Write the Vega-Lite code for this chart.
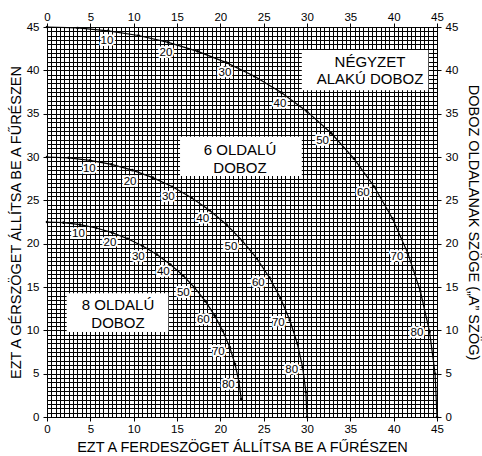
{
  "$schema": "https://vega.github.io/schema/vega-lite/v6.json",
  "width": 390,
  "height": 390,
  "autosize": "none",
  "padding": {"left": 47, "top": 27, "right": 45, "bottom": 39},
  "background": "white",
  "config": {
    "font": "Liberation Sans",
    "view": {"stroke": "black", "strokeWidth": 1},
    "axis": {
      "labelFont": "Liberation Sans",
      "titleFont": "Liberation Sans",
      "labelColor": "black",
      "titleColor": "black",
      "labelFontSize": 11.5,
      "labelFontWeight": "normal",
      "titleFontSize": 14.5,
      "titleFontWeight": "normal",
      "domainColor": "black",
      "tickColor": "black",
      "tickSize": 4,
      "labelOverlap": false,
      "labelBound": false,
      "labelFlush": false
    }
  },
  "datasets": {
    "curves": [
      {"s": "4", "a": 0, "x": 0, "y": 45},
      {"s": "4", "a": 5, "x": 3.53, "y": 44.89},
      {"s": "4", "a": 10, "x": 7.05, "y": 44.56},
      {"s": "4", "a": 15, "x": 10.55, "y": 44.02},
      {"s": "4", "a": 20, "x": 13.99, "y": 43.22},
      {"s": "4", "a": 25, "x": 17.39, "y": 42.19},
      {"s": "4", "a": 30, "x": 20.70, "y": 40.89},
      {"s": "4", "a": 35, "x": 23.93, "y": 39.32},
      {"s": "4", "a": 40, "x": 27.03, "y": 37.45},
      {"s": "4", "a": 45, "x": 30.00, "y": 35.26},
      {"s": "4", "a": 50, "x": 32.80, "y": 32.74},
      {"s": "4", "a": 55, "x": 35.40, "y": 29.84},
      {"s": "4", "a": 60, "x": 37.76, "y": 26.57},
      {"s": "4", "a": 65, "x": 39.86, "y": 22.91},
      {"s": "4", "a": 70, "x": 41.64, "y": 18.88},
      {"s": "4", "a": 75, "x": 43.08, "y": 14.51},
      {"s": "4", "a": 80, "x": 44.14, "y": 9.85},
      {"s": "4", "a": 85, "x": 44.78, "y": 4.98},
      {"s": "4", "a": 90, "x": 45, "y": 0},
      {"s": "6", "a": 0, "x": 0, "y": 30},
      {"s": "6", "a": 5, "x": 2.50, "y": 29.91},
      {"s": "6", "a": 10, "x": 4.98, "y": 29.62},
      {"s": "6", "a": 15, "x": 7.44, "y": 29.15},
      {"s": "6", "a": 20, "x": 9.85, "y": 28.48},
      {"s": "6", "a": 25, "x": 12.20, "y": 27.62},
      {"s": "6", "a": 30, "x": 14.48, "y": 26.57},
      {"s": "6", "a": 35, "x": 16.67, "y": 25.31},
      {"s": "6", "a": 40, "x": 18.75, "y": 23.86},
      {"s": "6", "a": 45, "x": 20.70, "y": 22.21},
      {"s": "6", "a": 50, "x": 22.52, "y": 20.36},
      {"s": "6", "a": 55, "x": 24.18, "y": 18.32},
      {"s": "6", "a": 60, "x": 25.66, "y": 16.10},
      {"s": "6", "a": 65, "x": 26.95, "y": 13.71},
      {"s": "6", "a": 70, "x": 28.02, "y": 11.17},
      {"s": "6", "a": 75, "x": 28.88, "y": 8.50},
      {"s": "6", "a": 80, "x": 29.50, "y": 5.73},
      {"s": "6", "a": 85, "x": 29.87, "y": 2.88},
      {"s": "6", "a": 90, "x": 30, "y": 0},
      {"s": "8", "a": 0, "x": 0, "y": 22.5},
      {"s": "8", "a": 5, "x": 1.91, "y": 22.42},
      {"s": "8", "a": 10, "x": 3.81, "y": 22.19},
      {"s": "8", "a": 15, "x": 5.68, "y": 21.81},
      {"s": "8", "a": 20, "x": 7.52, "y": 21.27},
      {"s": "8", "a": 25, "x": 9.31, "y": 20.57},
      {"s": "8", "a": 30, "x": 11.03, "y": 19.73},
      {"s": "8", "a": 35, "x": 12.68, "y": 18.74},
      {"s": "8", "a": 40, "x": 14.24, "y": 17.60},
      {"s": "8", "a": 45, "x": 15.70, "y": 16.33},
      {"s": "8", "a": 50, "x": 17.05, "y": 14.91},
      {"s": "8", "a": 55, "x": 18.27, "y": 13.37},
      {"s": "8", "a": 60, "x": 19.35, "y": 11.70},
      {"s": "8", "a": 65, "x": 20.29, "y": 9.93},
      {"s": "8", "a": 70, "x": 21.08, "y": 8.06},
      {"s": "8", "a": 75, "x": 21.69, "y": 6.12},
      {"s": "8", "a": 80, "x": 22.14, "y": 4.11},
      {"s": "8", "a": 85, "x": 22.41, "y": 2.07}
    ],
    "labels": [
      {"t": "10", "x": 6.92, "y": 43.38},
      {"t": "20", "x": 13.73, "y": 42.0},
      {"t": "30", "x": 20.54, "y": 39.69},
      {"t": "40", "x": 26.88, "y": 36.12},
      {"t": "50", "x": 31.8, "y": 31.88},
      {"t": "60", "x": 36.5, "y": 25.81},
      {"t": "70", "x": 40.38, "y": 18.46},
      {"t": "80", "x": 42.69, "y": 9.69},
      {"t": "10", "x": 4.88, "y": 28.58},
      {"t": "20", "x": 9.58, "y": 27.15},
      {"t": "30", "x": 14.0, "y": 25.42},
      {"t": "40", "x": 17.96, "y": 22.85},
      {"t": "50", "x": 21.23, "y": 19.58},
      {"t": "60", "x": 24.38, "y": 15.42},
      {"t": "70", "x": 26.69, "y": 10.81},
      {"t": "80", "x": 28.23, "y": 5.42},
      {"t": "10", "x": 3.62, "y": 21.12},
      {"t": "20", "x": 7.27, "y": 20.04},
      {"t": "30", "x": 10.54, "y": 18.5},
      {"t": "40", "x": 13.42, "y": 16.7},
      {"t": "50", "x": 15.73, "y": 14.27},
      {"t": "60", "x": 18.04, "y": 11.19},
      {"t": "70", "x": 19.77, "y": 7.54},
      {"t": "80", "x": 20.92, "y": 3.69}
    ],
    "boxes": [
      {"x1": 29.4, "x2": 44.0, "y1": 37.7, "y2": 42.35},
      {"x1": 15.35, "x2": 29.4, "y1": 27.8, "y2": 32.34},
      {"x1": 2.27, "x2": 14.0, "y1": 9.81, "y2": 14.27}
    ],
    "boxtext": [
      {"t": "NÉGYZET", "x": 37.27, "y": 41.0},
      {"t": "ALAKÚ DOBOZ", "x": 37.27, "y": 38.97},
      {"t": "6 OLDALÚ", "x": 22.27, "y": 30.81},
      {"t": "DOBOZ", "x": 22.27, "y": 28.77},
      {"t": "8 OLDALÚ", "x": 8.19, "y": 12.92},
      {"t": "DOBOZ", "x": 8.19, "y": 10.88}
    ]
  },
  "resolve": {"axis": {"x": "independent", "y": "independent"}},
  "layer": [
    {
      "data": {"name": "boxes"},
      "mark": {"type": "rect", "fill": "white", "stroke": null},
      "encoding": {
        "x": {
          "field": "x1", "type": "quantitative",
          "scale": {"domain": [0, 45], "nice": false, "zero": false},
          "axis": {
            "orient": "bottom",
            "title": "EZT A FERDESZÖGET ÁLLÍTSA BE A FŰRÉSZEN",
            "titleFontWeight": "normal",
            "titlePadding": 6,
            "values": [0,0.5,1,1.5,2,2.5,3,3.5,4,4.5,5,5.5,6,6.5,7,7.5,8,8.5,9,9.5,10,10.5,11,11.5,12,12.5,13,13.5,14,14.5,15,15.5,16,16.5,17,17.5,18,18.5,19,19.5,20,20.5,21,21.5,22,22.5,23,23.5,24,24.5,25,25.5,26,26.5,27,27.5,28,28.5,29,29.5,30,30.5,31,31.5,32,32.5,33,33.5,34,34.5,35,35.5,36,36.5,37,37.5,38,38.5,39,39.5,40,40.5,41,41.5,42,42.5,43,43.5,44,44.5,45],
            "labelExpr": "datum.value % 5 === 0 ? '' + datum.value : ''",
            "tickOpacity": {"condition": {"test": "datum.value % 5 === 0", "value": 1}, "value": 0},
            "grid": true,
            "gridColor": "black",
            "gridOpacity": 1,
            "gridWidth": 1,
            "labelPadding": 2
          }
        },
        "x2": {"field": "x2"},
        "y": {
          "field": "y1", "type": "quantitative",
          "scale": {"domain": [0, 45], "nice": false, "zero": false},
          "axis": {
            "orient": "left",
            "title": "EZT A GÉRSZÖGET ÁLLÍTSA BE A FŰRÉSZEN",
            "titleFontWeight": "normal",
            "titlePadding": 3,
            "values": [0,0.5,1,1.5,2,2.5,3,3.5,4,4.5,5,5.5,6,6.5,7,7.5,8,8.5,9,9.5,10,10.5,11,11.5,12,12.5,13,13.5,14,14.5,15,15.5,16,16.5,17,17.5,18,18.5,19,19.5,20,20.5,21,21.5,22,22.5,23,23.5,24,24.5,25,25.5,26,26.5,27,27.5,28,28.5,29,29.5,30,30.5,31,31.5,32,32.5,33,33.5,34,34.5,35,35.5,36,36.5,37,37.5,38,38.5,39,39.5,40,40.5,41,41.5,42,42.5,43,43.5,44,44.5,45],
            "labelExpr": "datum.value % 5 === 0 ? '' + datum.value : ''",
            "tickOpacity": {"condition": {"test": "datum.value % 5 === 0", "value": 1}, "value": 0},
            "grid": true,
            "gridColor": "black",
            "gridOpacity": 1,
            "gridWidth": 1,
            "labelPadding": 4
          }
        },
        "y2": {"field": "y2"}
      }
    },
    {
      "data": {"name": "boxtext"},
      "mark": {"type": "text", "fontSize": 15, "fill": "black", "fontWeight": "normal", "baseline": "middle", "align": "center", "font": "Liberation Sans"},
      "encoding": {
        "x": {"field": "x", "type": "quantitative", "axis": null},
        "y": {"field": "y", "type": "quantitative", "axis": null},
        "text": {"field": "t"}
      }
    },
    {
      "data": {"name": "curves"},
      "mark": {"type": "line", "stroke": "black", "strokeWidth": 1.2},
      "encoding": {
        "x": {"field": "x", "type": "quantitative", "axis": {"orient": "top", "title": null, "values": [0,5,10,15,20,25,30,35,40,45], "grid": false, "labelPadding": 1}},
        "y": {"field": "y", "type": "quantitative", "axis": {"orient": "right", "title": "DOBOZ OLDALANAK SZÖGE („A” SZÖG)", "titleFontWeight": "normal", "titlePadding": 8, "values": [0,5,10,15,20,25,30,35,40,45], "grid": false, "labelPadding": 4}},
        "detail": {"field": "s"},
        "order": {"field": "a", "type": "quantitative"}
      }
    },
    {
      "data": {"name": "curves"},
      "mark": {"type": "circle", "fill": "black", "size": 7, "opacity": 1},
      "encoding": {
        "x": {"field": "x", "type": "quantitative", "axis": null},
        "y": {"field": "y", "type": "quantitative", "axis": null}
      }
    },
    {
      "data": {"name": "labels"},
      "mark": {"type": "text", "fontSize": 11.5, "fill": "black", "stroke": "white", "strokeWidth": 4, "strokeJoin": "round", "baseline": "middle", "align": "center", "font": "Liberation Sans"},
      "encoding": {
        "x": {"field": "x", "type": "quantitative", "axis": null},
        "y": {"field": "y", "type": "quantitative", "axis": null},
        "text": {"field": "t"}
      }
    },
    {
      "data": {"name": "labels"},
      "mark": {"type": "text", "fontSize": 11.5, "fill": "black", "baseline": "middle", "align": "center", "font": "Liberation Sans"},
      "encoding": {
        "x": {"field": "x", "type": "quantitative", "axis": null},
        "y": {"field": "y", "type": "quantitative", "axis": null},
        "text": {"field": "t"}
      }
    }
  ]
}
